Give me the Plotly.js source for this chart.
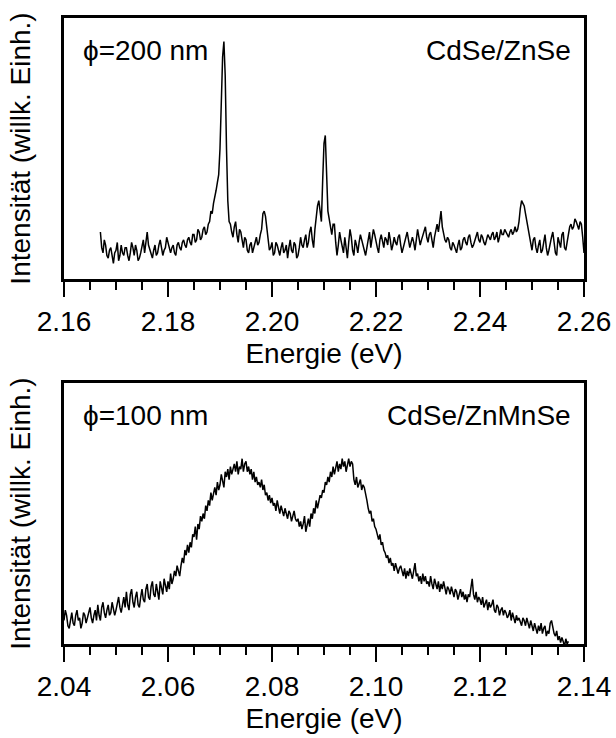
<!DOCTYPE html>
<html>
<head>
<meta charset="utf-8">
<script src="https://cdn.plot.ly/plotly-3.0.1.min.js"></script>
<style>html,body{margin:0;padding:0;background:#fff;}#chart{width:616px;height:738px;}</style>
</head>
<body>
<div id="chart"></div>
<script>
// ---- Data ----
// Top panel: CdSe/ZnSe, phi = 200 nm, uniform energy grid (eV)
const topStart = 2.167;
const topStep = 0.00025;
const topIntensity = [
  18,12,10,15,13,9,8,11,12,9,6,10,11,14,7,9,13,10,9,12,
  12,9,7,10,14,12,9,13,11,7,8,10,13,15,10,14,18,13,11,10,
  8,11,13,9,10,13,15,12,9,11,12,16,14,11,10,12,13,10,9,13,
  14,12,11,14,15,13,12,15,16,14,13,17,17,14,15,19,18,15,16,19,
  20,17,18,21,22,26,25,29,31,34,37,40,50,68,85,91,78,50,30,22,
  21,18,16,20,22,17,14,19,18,15,12,16,15,11,10,13,14,10,12,15,
  16,13,14,17,19,25,26,24,20,14,11,12,14,9,10,14,13,11,9,12,
  14,10,11,13,8,12,15,11,10,14,13,8,9,12,16,13,12,15,17,12,
  14,18,20,15,12,19,24,28,30,25,22,38,52,55,36,26,23,20,17,21,
  21,14,9,13,18,15,12,10,16,12,8,14,19,16,11,9,15,13,10,14,
  17,15,13,11,9,12,16,18,12,15,19,17,14,12,10,15,17,14,12,16,
  15,13,18,15,11,13,16,14,13,16,17,13,10,12,14,16,18,15,12,14,
  16,14,11,15,19,16,13,15,17,19,20,16,14,17,18,15,12,16,19,21,
  18,23,26,20,17,15,14,16,15,12,11,14,13,11,10,13,15,11,12,15,
  16,14,13,16,17,14,12,13,15,17,18,15,14,17,16,14,13,15,17,16,
  15,17,18,15,16,18,14,16,19,17,17,19,18,17,16,18,19,17,18,20,
  18,19,22,27,30,29,28,25,22,19,16,13,11,15,16,12,10,13,15,10,
  11,14,17,12,9,11,14,16,18,13,10,9,16,14,12,17,18,12,11,14,
  17,20,21,19,20,23,22,20,19,22,21,16,10
];

// Bottom panel: CdSe/ZnMnSe, phi = 100 nm, uniform energy grid (eV)
const botStart = 2.040;
const botStep = 0.00025;
const botIntensity = [
  9,13,11,7,6,10,12,8,7,11,13,9,10,6,8,12,11,8,10,13,
  14,10,8,11,13,9,15,11,9,14,16,12,10,13,15,11,12,16,14,11,
  13,16,18,14,12,15,18,14,20,15,13,19,21,16,14,18,20,15,14,18,
  21,17,16,21,23,18,17,22,24,19,18,23,20,17,24,21,19,25,23,20,
  24,21,27,23,25,28,26,30,28,26,30,33,31,36,34,38,35,39,37,42,
  41,45,40,46,44,49,47,50,48,53,51,55,53,58,55,57,60,57,62,59,
  61,65,63,60,66,64,67,63,68,65,67,69,66,70,65,68,67,71,66,69,
  70,66,68,65,67,63,66,62,64,61,62,60,63,59,61,57,58,55,57,54,
  56,53,54,51,55,52,50,53,51,49,52,50,48,51,50,47,49,51,48,47,
  48,45,47,44,46,49,43,46,48,45,50,48,52,50,55,52,54,57,56,59,
  58,62,61,64,62,66,64,68,65,67,70,66,69,67,71,68,70,66,69,71,
  68,70,69,63,61,64,60,62,63,59,61,60,58,55,52,50,51,47,48,45,
  44,42,40,42,38,39,36,35,33,34,31,33,30,31,28,31,29,27,29,30,
  28,26,29,25,28,26,29,27,25,28,31,26,27,24,26,23,27,24,26,23,
  24,22,26,23,21,25,23,21,24,20,23,21,24,22,19,22,21,19,22,20,
  18,21,20,17,19,21,18,20,17,19,16,19,18,22,25,19,17,20,16,18,
  17,15,18,14,16,17,13,16,14,15,17,13,12,15,14,11,13,14,11,13,
  12,10,11,13,9,12,10,8,11,9,10,8,7,10,9,7,10,8,6,9,
  7,5,8,6,4,7,5,8,4,6,7,3,5,4,8,9,6,4,3,5,
  1.5,3,0.5,2.5,1,-1,2,0,1
];

const topRange = [2.16, 2.26];
const botRange = [2.04, 2.14];
const topLabelLeft = "\u03D5=200 nm";
const topLabelRight = "CdSe/ZnSe";
const botLabelLeft = "\u03D5=100 nm";
const botLabelRight = "CdSe/ZnMnSe";
const xTitle = "Energie (eV)";
const yTitle = "Intensit\u00E4t (willk. Einh.)";

// ---- Build traces ----
const topX = topIntensity.map((_, i) => +(topStart + i * topStep).toFixed(6));
const botX = botIntensity.map((_, i) => +(botStart + i * botStep).toFixed(6));

const FONT = '"Liberation Sans", Arial, Helvetica, sans-serif';
const lineStyle = {color: '#000', width: 1.5};

const traces = [
  {x: topX, y: topIntensity, xaxis: 'x', yaxis: 'y', type: 'scatter', mode: 'lines', line: lineStyle, hoverinfo: 'skip'},
  {x: botX, y: botIntensity, xaxis: 'x2', yaxis: 'y2', type: 'scatter', mode: 'lines', line: lineStyle, hoverinfo: 'skip'}
];

function xAxis(range, anchor) {
  return {
    anchor: anchor, domain: [0, 1], range: range,
    tick0: range[0], dtick: 0.02, tickformat: '.2f',
    ticks: 'outside', ticklen: 15, tickwidth: 2, tickcolor: '#000',
    minor: {dtick: 0.005, ticks: 'outside', ticklen: 8, tickwidth: 2, tickcolor: '#000', showgrid: false},
    showline: true, linewidth: 3, linecolor: '#000', mirror: true,
    showgrid: false, zeroline: false,
    tickfont: {family: FONT, size: 28, color: '#000'},
    title: {text: xTitle, font: {family: FONT, size: 28, color: '#000'}, standoff: 8},
    fixedrange: true
  };
}
function yAxis(domain, anchor) {
  return {
    anchor: anchor, domain: domain, range: [0, 100],
    showticklabels: false, ticks: '',
    showline: true, linewidth: 3, linecolor: '#000', mirror: true,
    showgrid: false, zeroline: false,
    title: {text: yTitle, font: {family: FONT, size: 28, color: '#000'}, standoff: 23},
    fixedrange: true
  };
}

const annFont = {family: FONT, size: 28, color: '#000'};
const layout = {
  width: 616, height: 738,
  margin: {l: 64, r: 32, t: 18, b: 94},
  paper_bgcolor: '#fff', plot_bgcolor: '#fff',
  showlegend: false,
  xaxis: xAxis(topRange, 'y'),
  yaxis: yAxis([0.5831, 1], 'x'),
  xaxis2: xAxis(botRange, 'y2'),
  yaxis2: yAxis([0, 0.4169], 'x2'),
  annotations: [
    {xref: 'x domain', yref: 'y domain', x: 0.033, y: 0.877, xanchor: 'left', yanchor: 'middle', text: topLabelLeft, showarrow: false, font: annFont},
    {xref: 'x domain', yref: 'y domain', x: 0.979, y: 0.877, xanchor: 'right', yanchor: 'middle', text: topLabelRight, showarrow: false, font: annFont},
    {xref: 'x2 domain', yref: 'y2 domain', x: 0.033, y: 0.877, xanchor: 'left', yanchor: 'middle', text: botLabelLeft, showarrow: false, font: annFont},
    {xref: 'x2 domain', yref: 'y2 domain', x: 0.979, y: 0.877, xanchor: 'right', yanchor: 'middle', text: botLabelRight, showarrow: false, font: annFont}
  ]
};

Plotly.newPlot('chart', traces, layout, {staticPlot: true, displayModeBar: false});
</script>
</body>
</html>
